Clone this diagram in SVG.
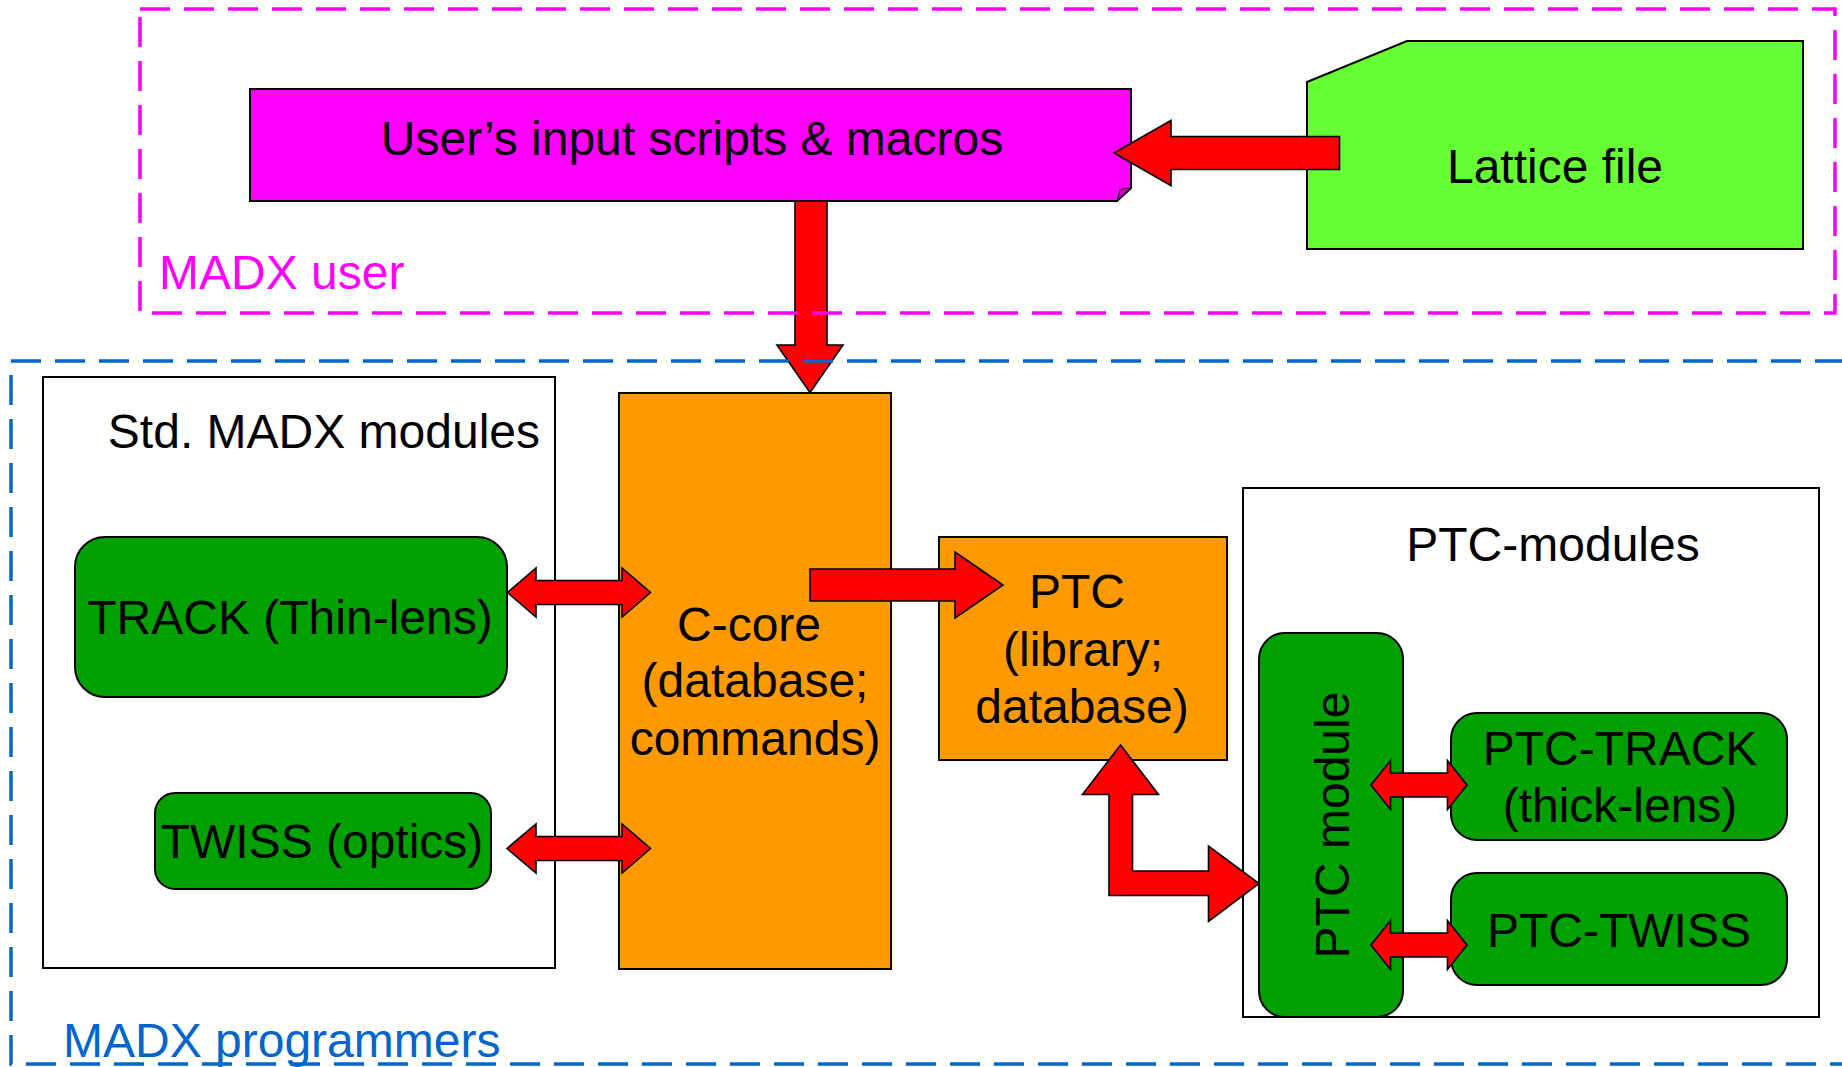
<svg xmlns="http://www.w3.org/2000/svg" width="1842" height="1067" viewBox="0 0 1842 1067">
<style>
text{font-family:"Liberation Sans",Arial,sans-serif;font-size:48px;fill:#000}
.box{stroke:#000;stroke-width:2}
.mod{fill:#00A000;stroke:#000;stroke-width:2}
.core{fill:#FF9900;stroke:#000;stroke-width:2}
.arrow{fill:#FF0000;stroke:#000;stroke-width:1.6;stroke-linejoin:miter}
.dash{fill:none;stroke-width:3.5;stroke-dasharray:30 14}
.mid{text-anchor:middle}
</style>
<rect width="1842" height="1067" fill="#fff"/>

<g id="std-modules">
<rect class="box" x="43" y="377" width="512" height="591" fill="#fff"/>
<text x="540" y="448" text-anchor="end">Std. MADX modules</text>
</g>
<g id="ptc-modules">
<rect class="box" x="1243" y="488" width="576" height="529" fill="#fff"/>
<text class="mid" x="1553" y="561">PTC-modules</text>
</g>

<g id="users-input">
<path class="box" d="M250,89 H1131 V188 L1117,201 H250 Z" fill="#FF00FF"/>
<path d="M1117,201 L1120,190 Q1126,188 1131,188 Z" fill="#CC00CC" stroke="#000" stroke-width="1.2"/>
<text class="mid" x="692" y="155">User’s input scripts &amp; macros</text>
</g>
<g id="lattice-file">
<path class="box" d="M1307,82 L1407,41 H1803 V249 H1307 Z" fill="#66FF33"/>
<text class="mid" x="1555" y="183">Lattice file</text>
</g>
<g id="c-core">
<rect class="core" x="619" y="393" width="272" height="576"/>
<text class="mid" x="749" y="641">C-core</text>
<text class="mid" x="755" y="697">(database;</text>
<text class="mid" x="755" y="755">commands)</text>
</g>
<g id="ptc">
<rect class="core" x="939" y="537" width="288" height="223"/>
<text class="mid" x="1077" y="608">PTC</text>
<text class="mid" x="1083" y="666">(library;</text>
<text class="mid" x="1082" y="723">database)</text>
</g>
<g id="track">
<rect class="mod" x="75" y="537" width="432" height="160" rx="30" ry="30"/>
<text class="mid" x="290" y="634">TRACK (Thin-lens)</text>
</g>
<g id="twiss">
<rect class="mod" x="155" y="793" width="336" height="96" rx="20" ry="20"/>
<text class="mid" x="322" y="858">TWISS (optics)</text>
</g>
<g id="ptc-module">
<rect class="mod" x="1259" y="633" width="144" height="384" rx="26" ry="26"/>
<text class="mid" transform="translate(1349,825) rotate(-90)" x="0" y="0">PTC module</text>
</g>
<g id="ptc-track">
<rect class="mod" x="1451" y="713" width="336" height="127" rx="26" ry="26"/>
<text class="mid" x="1620" y="765">PTC-TRACK</text>
<text class="mid" x="1620" y="822">(thick-lens)</text>
</g>
<g id="ptc-twiss">
<rect class="mod" x="1451" y="873" width="336" height="112" rx="26" ry="26"/>
<text class="mid" x="1619" y="947">PTC-TWISS</text>
</g>

<g id="connectors">
<polygon class="arrow" points="1339.5,136.5 1171,136.5 1171,120.5 1114,153 1171,185.5 1171,169.5 1339.5,169.5"/>
<polygon class="arrow" points="795,201 827,201 827,345 843,345 810,392.5 777,345 795,345"/>
<polygon class="arrow" points="507.5,592.5 536,568 536,580.5 622,580.5 622,568 650.5,592.5 622,617 622,604.5 536,604.5 536,617"/>
<polygon class="arrow" points="507,848.5 536,824 536,836.5 622,836.5 622,824 650.5,848.5 622,873 622,860.5 536,860.5 536,873"/>
<polygon class="arrow" points="810,569 955,569 955,552 1003,585 955,618 955,601 810,601"/>
<polygon class="arrow" points="1120.5,745 1158.5,794.5 1132.5,794.5 1132.5,871 1208.5,871 1208.5,846 1259,883.5 1208.5,921.5 1208.5,895.5 1109,895.5 1109,794.5 1082.5,794.5"/>
<polygon class="arrow" points="1371,785 1390.5,760.5 1390.5,773 1447.5,773 1447.5,760.5 1467,785 1447.5,809.5 1447.5,797 1390.5,797 1390.5,809.5"/>
<polygon class="arrow" points="1371,945 1390.5,920.5 1390.5,933 1447.5,933 1447.5,920.5 1467,945 1447.5,969.5 1447.5,957 1390.5,957 1390.5,969.5"/>
</g>

<g id="madx-user">
<rect class="dash" x="140" y="9" width="1695" height="304" stroke="#FF00FF"/>
<text x="159" y="289" style="fill:#FF00FF">MADX user</text>
</g>
<g id="madx-programmers">
<path class="dash" d="M1845,361 H11 V1064 H1845" stroke="#0066CC"/>
<text x="63" y="1057" style="fill:#0066CC">MADX programmers</text>
</g>
</svg>
